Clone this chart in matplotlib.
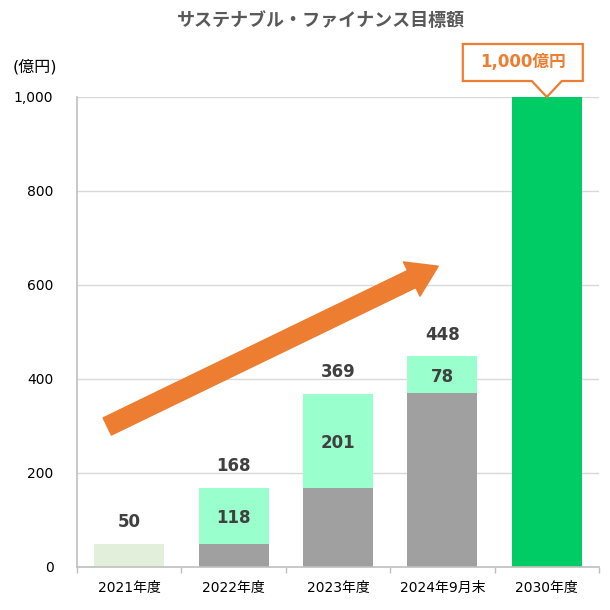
import matplotlib
matplotlib.use('Agg')
import matplotlib.pyplot as plt
from matplotlib.patches import Polygon
from matplotlib.transforms import ScaledTranslation

plt.rcParams['font.family'] = ['DejaVu Sans', 'Noto Sans CJK JP']

# データ
categories = ['2021年度', '2022年度', '2023年度', '2024年9月末', '2030年度']
base_vals = [50, 50, 168, 370, 1000]      # 前年度までの累計（2021年度・2030年度は単独）
new_vals = [0, 118, 201, 78, 0]           # 当年度の新規分
totals = [50, 168, 369, 448, 1000]
seg_labels = ['', '118', '201', '78', '']
base_colors = ['#E2EFDA', '#A0A0A0', '#A0A0A0', '#A0A0A0', '#00CC66']
y_ticks = [0, 200, 400, 600, 800, 1000]
y_ticklabels = ['0', '200', '400', '600', '800', '1,000']

fig = plt.figure(figsize=(6.1, 6.1), dpi=100)
ax = fig.add_axes([77 / 610, 43 / 610, 522 / 610, 470 / 610])

x = list(range(len(categories)))
w = 0.67
ax.bar(x, base_vals, width=w, color=base_colors, zorder=2)
ax.bar(x, new_vals, width=w, bottom=base_vals, color='#99FFCC', zorder=2)

# ラベル
for i in range(len(categories)):
    if i < 4:
        ax.text(i, totals[i] + 46, f'{totals[i]:,}', ha='center', va='center',
                fontsize=12, fontweight='bold', color='#404040', zorder=4)
    if seg_labels[i]:
        mid = base_vals[i] + new_vals[i] / 2 - 4
        ax.text(i, mid, seg_labels[i], ha='center', va='center',
                fontsize=12, fontweight='bold', color='#404040', zorder=4)

ax.set_xlim(-0.5, 4.5)
ax.set_ylim(0, 1000)
ax.set_yticks(y_ticks)
ax.set_yticklabels(y_ticklabels)
ax.set_xticks(x)
ax.set_xticklabels(categories)
ax.set_xticks([i + 0.5 for i in range(-1, 5)], minor=True)
ax.tick_params(axis='y', length=0, pad=17, labelsize=10, labelcolor='#000000')
ax.tick_params(axis='x', which='major', length=0, pad=10, labelsize=10, labelcolor='#000000')
ax.tick_params(axis='x', which='minor', length=4, color='#BFBFBF', width=1)
ax.grid(axis='y', color='#D9D9D9', linewidth=1, zorder=0)
ax.set_axisbelow(True)
for s in ['top', 'right']:
    ax.spines[s].set_visible(False)
for s in ['left', 'bottom']:
    ax.spines[s].set_color('#BFBFBF')
    ax.spines[s].set_linewidth(1.2)

# 矢印
ax.annotate('', xy=(2.96, 640), xytext=(-0.21, 299),
            arrowprops=dict(arrowstyle='simple,head_length=1.55,head_width=2.0,tail_width=1.0',
                            mutation_scale=13.7, color='#ED7D31', shrinkA=0, shrinkB=0),
            zorder=5)

# 吹き出し
tr = fig.dpi_scale_trans + ScaledTranslation(4, 1000, ax.transData)
callout = [(-0.84, 0.16), (-0.84, 0.53), (0.36, 0.53), (0.36, 0.16),
           (0.15, 0.16), (0.0, 0.0), (-0.15, 0.16)]
ax.add_patch(Polygon(callout, closed=True, transform=tr, facecolor='white',
                     edgecolor='#ED7D31', linewidth=1.6, clip_on=False, zorder=6))
ax.annotate('1,000億円', xy=(4, 1000), xytext=(-24 * 0.72, 35 * 0.72),
            textcoords='offset points', ha='center', va='center',
            fontsize=12, fontweight='bold', color='#ED7D31', zorder=7,
            annotation_clip=False)

fig.text(321 / 610, 1 - 20 / 610, 'サステナブル・ファイナンス目標額', ha='center', va='center',
         fontsize=13, fontweight='bold', color='#595959',
         family=['Noto Sans CJK JP', 'DejaVu Sans'])
fig.text(13 / 610, 1 - 67 / 610, '(億円)', ha='left', va='center', fontsize=11.5, color='#000000')

fig.savefig('out.png', dpi=100)
